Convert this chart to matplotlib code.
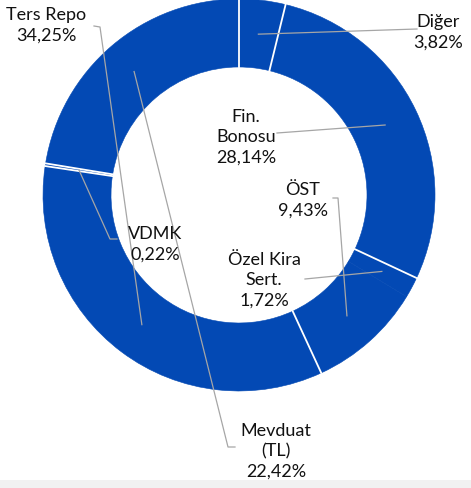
import numpy as np
import matplotlib
matplotlib.use("Agg")
import matplotlib.pyplot as plt
from matplotlib.patches import Rectangle

# slices, clockwise from 12 o'clock
names = ["Diğer", "Fin.\nBonosu", "Özel Kira\nSert.", "ÖST", "Ters Repo", "VDMK", "Mevduat\n(TL)"]
shares = [3.82, 28.14, 1.72, 9.43, 34.25, 0.22, 22.42]
pct_text = ["3,82%", "28,14%", "1,72%", "9,43%", "34,25%", "0,22%", "22,42%"]

W, H = 471, 489
blue = '#0349b4'
plt.rcParams['font.family'] = ['Lato', 'DejaVu Sans']

fig = plt.figure(figsize=(W / 100, H / 100), dpi=100)
ax = fig.add_axes([0, 0, 1, 1])
ax.axis('off')

fig.patches.append(Rectangle((0, 0), 1, 8 / H, transform=fig.transFigure,
                             facecolor='#f1f1f1', edgecolor='none', zorder=0))

def px(x, y):
    return x, H - y

cx, cy = px(239, 196)
R, ring = 196, 68

wedges, _ = ax.pie(shares, center=(cx, cy), radius=R, startangle=90, counterclock=False,
                   colors=[blue] * len(shares),
                   wedgeprops=dict(width=ring, edgecolor=blue, linewidth=0.4))
ax.set_xlim(0, W)
ax.set_ylim(0, H)
ax.set_aspect('equal')

# white separators; theta1 is the clockwise end of each slice.
# the Özel Kira / ÖST separator is not visible in the original
for name, w in zip(names, wedges):
    if name.startswith("Özel"):
        continue
    a = np.deg2rad(w.theta1)
    ax.plot([cx + (R - ring) * np.cos(a), cx + R * np.cos(a)],
            [cy + (R - ring) * np.sin(a), cy + R * np.sin(a)],
            color='white', lw=1.3, zorder=3)

# label text centres and leader-line starting points (pixel coords)
label_pos = [(438, 32), (246, 137), (264, 280), (303, 200), (46, 25), (155, 244), (276, 451)]
leader_start = [
    [(417, 30)],
    [(277, 134)],
    [(305, 280)],
    [(333, 199), (338, 199)],
    [(94, 27), (100, 28)],
    [(117, 240), (110, 240)],
    [(235, 448), (228, 448)],
]

rmid = R - ring / 2
for w, name, pct, pos, pts in zip(wedges, names, pct_text, label_pos, leader_start):
    a = np.deg2rad((w.theta1 + w.theta2) / 2)
    ex, ey = cx + rmid * np.cos(a), cy + rmid * np.sin(a)
    xs = [px(*p)[0] for p in pts] + [ex]
    ys = [px(*p)[1] for p in pts] + [ey]
    ax.plot(xs, ys, color='#a6a6a6', lw=0.9, zorder=5)
    tx, ty = px(*pos)
    ax.text(tx, ty, name + "\n" + pct, ha='center', va='center', fontsize=13,
            color='#111111', linespacing=1.33, zorder=6)

fig.savefig("out.png", dpi=100)
